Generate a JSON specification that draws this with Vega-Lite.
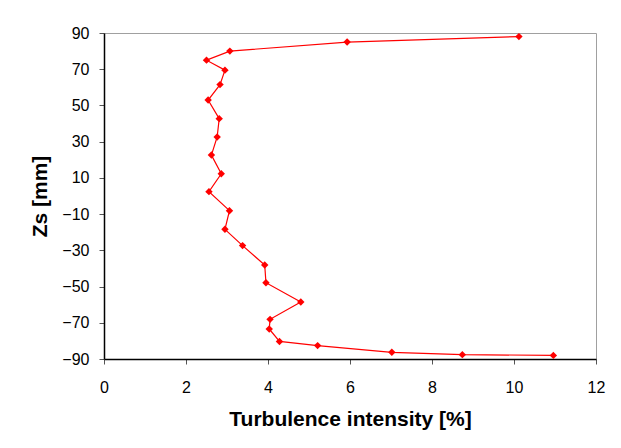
{
  "$schema": "https://vega.github.io/schema/vega-lite/v6.json",
  "width": 492,
  "height": 326,
  "autosize": {"type": "none"},
  "padding": {"left": 104, "top": 33, "right": 25, "bottom": 89},
  "background": "white",
  "data": {
    "values": [
      {"i": 1, "ti": 10.12, "zs": 88},
      {"i": 2, "ti": 5.93, "zs": 85},
      {"i": 3, "ti": 3.07, "zs": 80},
      {"i": 4, "ti": 2.5, "zs": 75},
      {"i": 5, "ti": 2.95, "zs": 69.5},
      {"i": 6, "ti": 2.83, "zs": 61.5},
      {"i": 7, "ti": 2.54, "zs": 53},
      {"i": 8, "ti": 2.81, "zs": 42.7},
      {"i": 9, "ti": 2.76, "zs": 32.6},
      {"i": 10, "ti": 2.62, "zs": 22.6},
      {"i": 11, "ti": 2.86, "zs": 12.3},
      {"i": 12, "ti": 2.56, "zs": 2.4},
      {"i": 13, "ti": 3.06, "zs": -8.1},
      {"i": 14, "ti": 2.95, "zs": -18.4},
      {"i": 15, "ti": 3.38, "zs": -27.4},
      {"i": 16, "ti": 3.92, "zs": -38.1},
      {"i": 17, "ti": 3.95, "zs": -47.9},
      {"i": 18, "ti": 4.8, "zs": -58.5},
      {"i": 19, "ti": 4.05, "zs": -68.1},
      {"i": 20, "ti": 4.03, "zs": -73.4},
      {"i": 21, "ti": 4.28, "zs": -80.3},
      {"i": 22, "ti": 5.21, "zs": -82.6},
      {"i": 23, "ti": 7.02, "zs": -86.3},
      {"i": 24, "ti": 8.74, "zs": -87.6},
      {"i": 25, "ti": 10.96, "zs": -88}
    ]
  },
  "config": {
    "view": {"stroke": "#a0a0a0", "strokeWidth": 1},
    "axis": {
      "grid": false,
      "labelFont": "Liberation Sans",
      "labelFontSize": 16,
      "labelColor": "#000",
      "titleFont": "Liberation Sans",
      "titleFontWeight": "bold",
      "titleFontSize": 21,
      "titleColor": "#000",
      "domainColor": "#000",
      "domainWidth": 1.5,
      "tickColor": "#555",
      "tickSize": 5,
      "tickWidth": 1
    }
  },
  "encoding": {
    "x": {
      "field": "ti",
      "type": "quantitative",
      "scale": {"domain": [0, 12], "nice": false, "zero": false},
      "axis": {"title": "Turbulence intensity [%]", "values": [0, 2, 4, 6, 8, 10, 12], "labelPadding": 15, "titlePadding": 13, "labelFlush": false}
    },
    "y": {
      "field": "zs",
      "type": "quantitative",
      "scale": {"domain": [-90, 90], "nice": false, "zero": false},
      "axis": {"title": "Zs [mm]", "values": [-90, -70, -50, -30, -10, 10, 30, 50, 70, 90], "labelPadding": 10, "titlePadding": 11, "labelFlush": false}
    },
    "order": {"field": "i", "type": "quantitative"}
  },
  "layer": [
    {"mark": {"type": "line", "color": "#ff0000", "strokeWidth": 1.2}},
    {"mark": {"type": "point", "shape": "diamond", "filled": true, "color": "#ff0000", "opacity": 1, "size": 55}}
  ]
}
